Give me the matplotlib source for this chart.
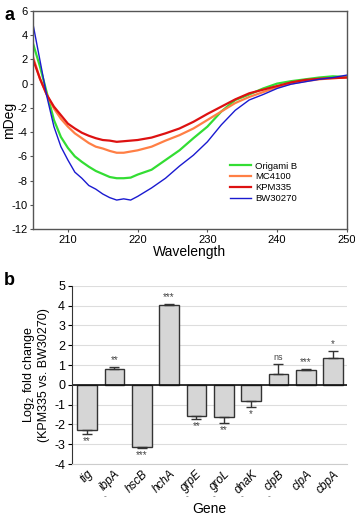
import matplotlib
matplotlib.use('Agg')
import matplotlib.pyplot as plt
import numpy as np

plt.rcParams['font.family'] = ['Liberation Sans', 'DejaVu Sans']
plt.rcParams['axes.unicode_minus'] = False

# panel a: CD spectra
wavelength = [205, 206, 207, 208, 209, 210, 211, 212, 213, 214, 215, 216, 217, 218, 219, 220,
              222, 224, 226, 228, 230, 232, 234, 236, 238, 240, 242, 244, 246, 248, 250]
origami_b = [3.3, 1.4, -0.8, -3.0, -4.4, -5.3, -6.0, -6.45, -6.85, -7.2, -7.45, -7.7, -7.8, -7.8, -7.75, -7.5,
             -7.1, -6.3, -5.5, -4.5, -3.55, -2.3, -1.35, -0.9, -0.4, 0.0, 0.2, 0.35, 0.5, 0.6, 0.55]
mc4100 = [2.2, 0.4, -0.95, -2.05, -2.9, -3.55, -4.1, -4.5, -4.9, -5.2, -5.35, -5.55, -5.7, -5.7, -5.6, -5.5,
          -5.2, -4.7, -4.25, -3.7, -3.0, -2.3, -1.6, -1.1, -0.7, -0.3, 0.0, 0.2, 0.35, 0.45, 0.5]
kpm335 = [2.0, 0.4, -0.95, -1.9, -2.6, -3.3, -3.7, -4.05, -4.3, -4.5, -4.65, -4.7, -4.8, -4.75, -4.7, -4.65,
          -4.45, -4.1, -3.7, -3.15, -2.5, -1.9, -1.3, -0.8, -0.5, -0.2, 0.1, 0.3, 0.4, 0.45, 0.5]
bw30270 = [4.9, 1.9, -1.1, -3.55, -5.2, -6.3, -7.3, -7.8, -8.4, -8.7, -9.1, -9.4, -9.6, -9.5, -9.6, -9.3,
           -8.6, -7.8, -6.8, -5.9, -4.8, -3.4, -2.2, -1.35, -0.9, -0.4, -0.05, 0.15, 0.35, 0.5, 0.7]

# panel b: log2 fold change
genes = ['tig', 'ibpA', 'hscB', 'hchA', 'grpE', 'groL', 'dnaK', 'clpB', 'clpA', 'cbpA']
fold = [-2.3, 0.78, -3.15, 4.05, -1.58, -1.63, -0.8, 0.55, 0.75, 1.35]
err = [0.2, 0.1, 0.05, 0.05, 0.15, 0.3, 0.32, 0.48, 0.03, 0.35]
signif = ['**', '**', '***', '***', '**', '**', '*', 'ns', '***', '*']
dash_under = ['', '-', '', '', '-', '-', '-', '-', '', '']

fig = plt.figure(figsize=(3.55, 5.15), dpi=100)

# ---- a ----
ax = fig.add_axes([0.093, 0.555, 0.884, 0.424])
ax.plot(wavelength, origami_b, color='#33dd33', lw=1.6, label='Origami B')
ax.plot(wavelength, mc4100, color='#ff7f45', lw=1.6, label='MC4100')
ax.plot(wavelength, kpm335, color='#dd1111', lw=1.6, label='KPM335')
ax.plot(wavelength, bw30270, color='#1a1ad0', lw=1.0, label='BW30270')
ax.set_xlim(205, 250)
ax.set_ylim(-12, 6)
ax.set_yticks(np.arange(-12, 7, 2))
ax.set_xticks([210, 220, 230, 240, 250])
ax.tick_params(labelsize=8, length=2.5, width=0.8, color='#555555', pad=1.5)
for s in ax.spines.values():
    s.set_color('#555555')
    s.set_linewidth(1.0)
ax.set_xlabel('Wavelength', fontsize=10, labelpad=0)
ax.set_ylabel('mDeg', fontsize=10)
ax.yaxis.set_label_coords(-0.055, 0.5)
ax.legend(loc='lower right', bbox_to_anchor=(0.87, 0.08), frameon=False, fontsize=6.8,
          handlelength=2.2, handletextpad=0.5, labelspacing=0.2)
fig.text(0.012, 0.962, 'a', fontsize=13, fontweight='bold')

# ---- b ----
bx = fig.add_axes([0.203, 0.099, 0.774, 0.346])
x = np.arange(len(genes))
lower = [e if v < 0 else 0 for v, e in zip(fold, err)]
upper = [e if v >= 0 else 0 for v, e in zip(fold, err)]
bx.set_axisbelow(True)
bx.grid(axis='y', color='#dddddd', lw=0.8)
bx.bar(x, fold, width=0.72, color='#d6d6d6', edgecolor='#333333', lw=1.0,
       yerr=[lower, upper], error_kw=dict(ecolor='#333333', elinewidth=1.0, capsize=3.5, capthick=1.0))
bx.axhline(0, color='#111111', lw=1.2)
for i, (v, e, s) in enumerate(zip(fold, err, signif)):
    if v >= 0:
        bx.text(i, v + e + 0.1, s, ha='center', va='bottom', fontsize=6.5 if s == 'ns' else 7,
                color='#444444')
    else:
        bx.text(i, v - e - 0.1, s, ha='center', va='top', fontsize=7, color='#444444')
bx.set_xlim(-0.55, 9.5)
bx.set_ylim(-4, 5)
bx.set_yticks(range(-4, 6))
bx.set_xticks(x)
bx.set_xticklabels(genes, rotation=45, ha='right', rotation_mode='anchor', style='italic', fontsize=8.5)
bx.tick_params(axis='x', length=0, pad=3)
bx.tick_params(axis='y', labelsize=9, length=3, width=0.8, pad=2)
bx.spines['top'].set_visible(False)
bx.spines['right'].set_visible(False)
bx.spines['bottom'].set_color('#cccccc')
bx.spines['left'].set_color('#333333')
for i, d in enumerate(dash_under):
    if d:
        bx.text(i - 0.35, -0.185, d, transform=bx.get_xaxis_transform(), ha='center', va='center',
                fontsize=6, color='#555555')
bx.set_xlabel('Gene', fontsize=10, labelpad=4)
bx.set_ylabel('Log$_2$ fold change\n(KPM335 vs. BW30270)', fontsize=9, labelpad=3, linespacing=1.1)
fig.text(0.012, 0.446, 'b', fontsize=13, fontweight='bold')

fig.savefig('out.png', dpi=100)
